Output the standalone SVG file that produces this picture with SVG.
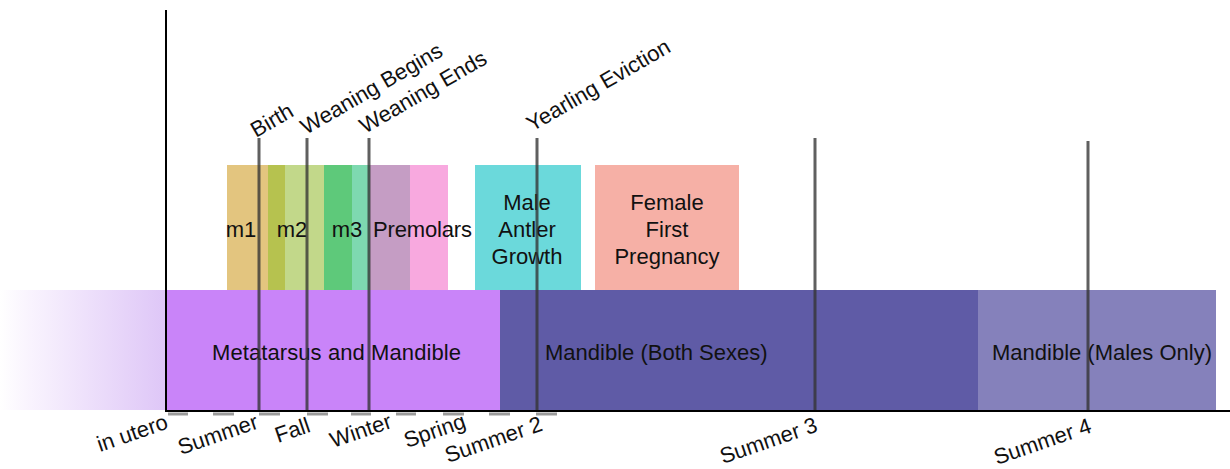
<svg xmlns="http://www.w3.org/2000/svg" width="1230" height="469" viewBox="0 0 1230 469">
<defs>
<linearGradient id="fade" x1="0" y1="0" x2="1" y2="0">
<stop offset="0" stop-color="#ffffff"/>
<stop offset="0.15" stop-color="#faf5fe"/>
<stop offset="1" stop-color="#dec6f7"/>
</linearGradient>
<style>
text{font-family:"Liberation Sans",Arial,sans-serif;fill:#111;}
.lbl{font-size:22px;}
.ctr{font-size:22px;text-anchor:middle;}
.mk{stroke:#333;stroke-opacity:0.78;stroke-width:3;}
.tick{stroke:#9a9a9a;stroke-width:3;}
.axis{stroke:#000;stroke-width:2;fill:none;}
</style>
</defs>
<rect width="1230" height="469" fill="#fff"/>

<g id="band-fade"><rect x="0" y="290" width="166" height="120" fill="url(#fade)"/></g>

<g id="boxes">
<rect x="227" y="165" width="41" height="125" fill="#e3c57f"/>
<rect x="268" y="165" width="17" height="125" fill="#b6c24f"/>
<rect x="285" y="165" width="39" height="125" fill="#c2d88a"/>
<rect x="324" y="165" width="28" height="125" fill="#5ec97a"/>
<rect x="352" y="165" width="18" height="125" fill="#7ed9b0"/>
<rect x="370" y="165" width="40" height="125" fill="#c59dc4"/>
<rect x="410" y="165" width="38" height="125" fill="#f8a9df"/>
<rect x="475" y="165" width="106" height="125" fill="#6bd9db"/>
<rect x="595" y="165" width="144" height="125" fill="#f6b0a6"/>
</g>

<g id="bands">
<rect id="metatarsus" x="166" y="290" width="334" height="121" fill="#c984f9"/>
<rect id="both" x="500" y="290" width="478" height="121" fill="#5f5ba6"/>
<rect id="males" x="978" y="290" width="238" height="121" fill="#8581bb"/>
</g>

<g id="box-labels">
<text class="ctr" x="241" y="237">m1</text>
<text class="ctr" x="292" y="237">m2</text>
<text class="ctr" x="347" y="237">m3</text>
<text class="lbl" x="373" y="237" textLength="99">Premolars</text>
<text class="ctr" x="527" y="210">Male</text>
<text class="ctr" x="527" y="237">Antler</text>
<text class="ctr" x="527" y="264">Growth</text>
<text class="ctr" x="667" y="210">Female</text>
<text class="ctr" x="667" y="237">First</text>
<text class="ctr" x="667" y="264">Pregnancy</text>
</g>

<g id="band-labels">
<text class="lbl" x="212" y="360" textLength="249">Metatarsus and Mandible</text>
<text class="lbl" x="545" y="360">Mandible (Both Sexes)</text>
<text class="lbl" x="992" y="360" textLength="220">Mandible (Males Only)</text>
</g>

<g id="connectors">
<line class="mk" x1="259" y1="138" x2="259" y2="411"/>
<line class="mk" x1="307" y1="138" x2="307" y2="411"/>
<line class="mk" x1="369" y1="138" x2="369" y2="411"/>
<line class="mk" x1="537" y1="138" x2="537" y2="411"/>
<line class="mk" x1="815" y1="138" x2="815" y2="411"/>
<line class="mk" x1="1088" y1="141" x2="1088" y2="411"/>
<g id="ticks">
<line class="tick" x1="168" y1="414" x2="188" y2="414"/>
<line class="tick" x1="213" y1="414" x2="234" y2="414"/>
<line class="tick" x1="259" y1="414" x2="280" y2="414"/>
<line class="tick" x1="307" y1="414" x2="328" y2="414"/>
<line class="tick" x1="351" y1="414" x2="371" y2="414"/>
<line class="tick" x1="396" y1="414" x2="416" y2="414"/>
<line class="tick" x1="443" y1="414" x2="464" y2="414"/>
<line class="tick" x1="489" y1="414" x2="510" y2="414"/>
<line class="tick" x1="536" y1="414" x2="557" y2="414"/>
</g>
<path class="axis" d="M166 10 V411 H1230"/>
</g>

<g id="event-labels">
<text class="lbl" transform="translate(256,138) rotate(-30)">Birth</text>
<text class="lbl" transform="translate(306,135) rotate(-30)">Weaning Begins</text>
<text class="lbl" transform="translate(365,134) rotate(-30)">Weaning Ends</text>
<text class="lbl" transform="translate(532,132) rotate(-30)">Yearling Eviction</text>
</g>

<g id="season-labels">
<text class="lbl" transform="translate(100,452) rotate(-19)">in utero</text>
<text class="lbl" transform="translate(181,455) rotate(-19)">Summer</text>
<text class="lbl" transform="translate(278,443) rotate(-19)">Fall</text>
<text class="lbl" transform="translate(333,448) rotate(-19)">Winter</text>
<text class="lbl" transform="translate(407,448) rotate(-19)">Spring</text>
<text class="lbl" transform="translate(448,463) rotate(-19)">Summer 2</text>
<text class="lbl" transform="translate(723,464) rotate(-19)">Summer 3</text>
<text class="lbl" transform="translate(997,465) rotate(-19)">Summer 4</text>
</g>
</svg>
